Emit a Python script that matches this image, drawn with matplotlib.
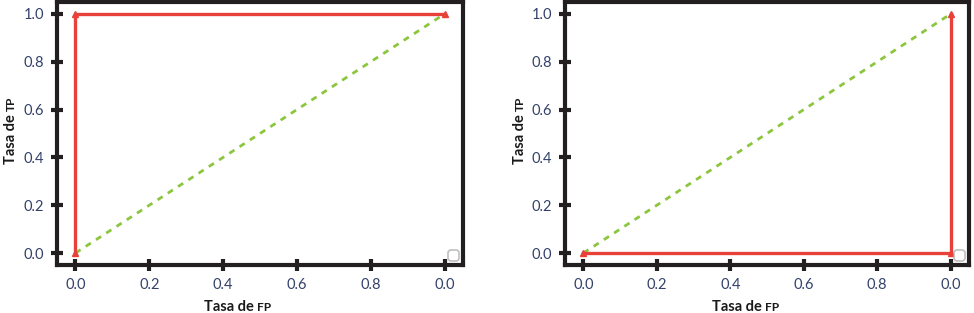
from matplotlib import pyplot as plt

# ROC curves
FPR_left = [0.0, 0.0, 1.0]
TPR_left = [0.0, 1.0, 1.0]
FPR_right = [0.0, 1.0, 1.0]
TPR_right = [0.0, 0.0, 1.0]
Diag = [0.0, 1.0]

XTicks = [0.0, 0.2, 0.4, 0.6, 0.8, 1.0]
XTickLabels = ['0.0', '0.2', '0.4', '0.6', '0.8', '0.0']
YTicks = [0.0, 0.2, 0.4, 0.6, 0.8, 1.0]
YTickLabels = ['0.0', '0.2', '0.4', '0.6', '0.8', '1.0']

RedC = '#e8413a'
GreenC = '#8cc63f'
TickC = '#34426a'
LabC = '#1a1a1a'

plt.rcParams['font.family'] = ['Lato', 'DejaVu Sans']

fig = plt.figure(figsize=(9.74, 3.13), dpi=100)
ax1 = fig.add_axes([57/974, 48/313, 406/974, 263/313])
ax2 = fig.add_axes([565/974, 48/313, 404/974, 263/313])

for ax, fx, fy in [(ax1, FPR_left, TPR_left), (ax2, FPR_right, TPR_right)]:
    ax.plot(Diag, Diag, color=GreenC, lw=2, dashes=(2.2, 2.2))
    ax.plot(fx, fy, color=RedC, lw=2.4, marker='^', markersize=5)
    ax.set_xlim(-0.05, 1.05)
    ax.set_ylim(-0.05, 1.05)
    ax.set_xticks(XTicks)
    ax.set_xticklabels(XTickLabels)
    ax.set_yticks(YTicks)
    ax.set_yticklabels(YTickLabels)
    for s in ax.spines.values():
        s.set_linewidth(3)
        s.set_color('#231f20')
    ax.tick_params(direction='inout', length=9, width=3, color='#231f20',
                   labelsize=10.5, labelcolor=TickC, pad=5)
    leg = ax.legend(handles=[], loc='lower right', borderaxespad=0.3)
    leg.get_frame().set_edgecolor('#b0b0b0')
    leg.get_frame().set_linewidth(1.2)

# axis labels with small caps
for sx in [257, 765]:
    fig.text(sx/974, 2/313, 'Tasa de ', fontsize=10.5, fontweight='bold',
             color=LabC, ha='right', va='baseline')
    fig.text(sx/974, 2/313, 'FP', fontsize=8.5, fontweight='bold',
             color=LabC, ha='left', va='baseline')

for bx in [15, 524]:
    ay = (313 - 111)/313
    fig.text(bx/974, ay, 'Tasa de ', fontsize=10.5, fontweight='bold',
             color=LabC, rotation=90, ha='right', va='baseline',
             rotation_mode='anchor')
    fig.text(bx/974, ay, 'TP', fontsize=8.5, fontweight='bold',
             color=LabC, rotation=90, ha='left', va='baseline',
             rotation_mode='anchor')

fig.savefig('out.png', dpi=100)
